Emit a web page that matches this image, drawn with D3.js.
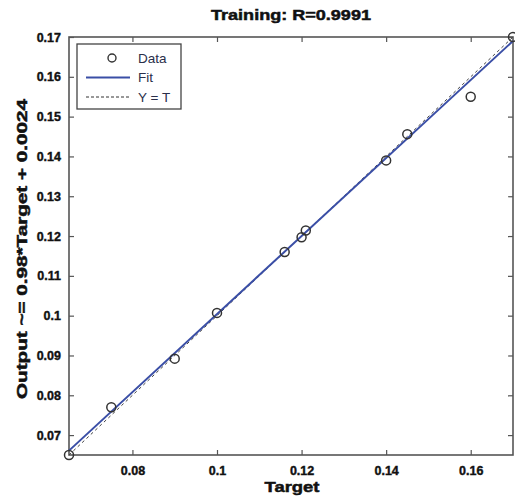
<!DOCTYPE html>
<html>
<head>
<meta charset="utf-8">
<script src="https://cdn.jsdelivr.net/npm/d3@7"></script>
<style>
  body { margin: 0; background: #fff; }
  text { font-family: "Liberation Sans", Arial, sans-serif; }
</style>
</head>
<body>
<div class="chart"></div>
<script>
var svgWidth = 515;
var svgHeight = 498;

// data
var targets = [0.065, 0.075, 0.09, 0.1, 0.116, 0.12, 0.121, 0.14, 0.145, 0.16, 0.17];
var outputs = [0.065, 0.0770, 0.0892, 0.1007, 0.1160, 0.1197, 0.1214, 0.1390, 0.1456, 0.1550, 0.170];
var xTicks = [0.08, 0.1, 0.12, 0.14, 0.16];
var yTicks = [0.07, 0.08, 0.09, 0.1, 0.11, 0.12, 0.13, 0.14, 0.15, 0.16, 0.17];
var fitSlope = 0.98;
var fitIntercept = 0.0024;
var legendLabels = ["Data", "Fit", "Y = T"];

var margin = { top: 37, right: 2, bottom: 43, left: 69 };
var width = svgWidth - margin.left - margin.right;
var height = svgHeight - margin.top - margin.bottom;

var svg = d3.select(".chart")
  .append("svg")
  .attr("width", svgWidth)
  .attr("height", svgHeight);

var chartGroup = svg.append("g")
  .attr("transform", `translate(${margin.left}, ${margin.top})`);

var x = d3.scaleLinear().domain([0.065, 0.17]).range([0, width]);
var y = d3.scaleLinear().domain([0.065, 0.17]).range([height, 0]);

var axisColor = "#555";
var fmt = d => String(d);

// axes with inward ticks, MATLAB style box
function styleAxis(g) {
  g.select(".domain").remove();
  g.selectAll(".tick line").attr("stroke", axisColor).attr("stroke-width", 1.2);
  g.selectAll(".tick text")
    .attr("fill", "#111")
    .attr("stroke", "#111")
    .attr("stroke-width", 0.4)
    .style("font-size", "12.5px")
    .style("font-weight", "bold");
}

chartGroup.append("g")
  .attr("transform", `translate(0, ${height})`)
  .call(d3.axisBottom(x).tickValues(xTicks).tickFormat(fmt).tickSizeInner(-5).tickPadding(11))
  .call(styleAxis);

chartGroup.append("g")
  .call(d3.axisTop(x).tickValues(xTicks).tickSizeInner(-5).tickFormat(""))
  .call(styleAxis);

chartGroup.append("g")
  .call(d3.axisLeft(y).tickValues(yTicks).tickFormat(fmt).tickSizeInner(-5).tickPadding(8))
  .call(styleAxis);

chartGroup.append("g")
  .attr("transform", `translate(${width}, 0)`)
  .call(d3.axisRight(y).tickValues(yTicks).tickSizeInner(-5).tickFormat(""))
  .call(styleAxis);

chartGroup.append("rect")
  .attr("width", width)
  .attr("height", height)
  .attr("fill", "none")
  .attr("stroke", axisColor)
  .attr("stroke-width", 1.6);

// Y = T
var dom = x.domain();
chartGroup.append("line")
  .attr("x1", x(dom[0])).attr("y1", y(dom[0]))
  .attr("x2", x(dom[1])).attr("y2", y(dom[1]))
  .attr("stroke", "#444")
  .attr("stroke-width", 1)
  .attr("stroke-dasharray", "3,3");

// fit line
chartGroup.append("line")
  .attr("x1", x(dom[0])).attr("y1", y(fitSlope * dom[0] + fitIntercept))
  .attr("x2", x(dom[1])).attr("y2", y(fitSlope * dom[1] + fitIntercept))
  .attr("stroke", "#3a4ea6")
  .attr("stroke-width", 2);

// data points
chartGroup.selectAll("circle.pt")
  .data(targets)
  .join("circle")
    .attr("class", "pt")
    .attr("cx", d => x(d))
    .attr("cy", (d, i) => y(outputs[i]))
    .attr("r", 4.5)
    .attr("fill", "none")
    .attr("stroke", "#333")
    .attr("stroke-width", 1.5);

// legend
var legend = chartGroup.append("g").attr("transform", "translate(8, 7)");
legend.append("rect")
  .attr("width", 104).attr("height", 65)
  .attr("fill", "#fff")
  .attr("stroke", "#444")
  .attr("stroke-width", 1.3);

legend.selectAll("text")
  .data(legendLabels)
  .join("text")
    .attr("x", 61)
    .attr("y", (d, i) => 14 + i * 19.5)
    .attr("dy", "0.35em")
    .style("font-size", "13.5px")
    .attr("fill", "#2a2f4a")
    .text(d => d);

legend.append("circle")
  .attr("cx", 35).attr("cy", 14).attr("r", 4)
  .attr("fill", "none").attr("stroke", "#333").attr("stroke-width", 1.4);
legend.append("line")
  .attr("x1", 9).attr("x2", 53).attr("y1", 33.5).attr("y2", 33.5)
  .attr("stroke", "#3a4ea6").attr("stroke-width", 2);
legend.append("line")
  .attr("x1", 9).attr("x2", 53).attr("y1", 53).attr("y2", 53)
  .attr("stroke", "#333").attr("stroke-width", 1).attr("stroke-dasharray", "3,2");

// titles (stretched a little, the original text is wide and heavy)
function heavyLabel(sel, size, len) {
  sel.attr("text-anchor", "middle")
    .attr("dy", "0.35em")
    .attr("textLength", len)
    .attr("lengthAdjust", "spacingAndGlyphs")
    .style("font-size", size + "px")
    .style("font-weight", "bold")
    .attr("fill", "#111")
    .attr("stroke", "#111")
    .attr("stroke-width", 0.5);
}

svg.append("text")
  .attr("x", 291)
  .attr("y", 15)
  .text("Training: R=0.9991")
  .call(heavyLabel, 15, 160);

svg.append("text")
  .attr("x", 292)
  .attr("y", 487)
  .text("Target")
  .call(heavyLabel, 15.5, 55);

svg.append("text")
  .attr("transform", `translate(22, ${margin.top + height / 2 + 3}) rotate(-90)`)
  .text("Output ~= 0.98*Target + 0.0024")
  .call(heavyLabel, 15, 300);
</script>
</body>
</html>
